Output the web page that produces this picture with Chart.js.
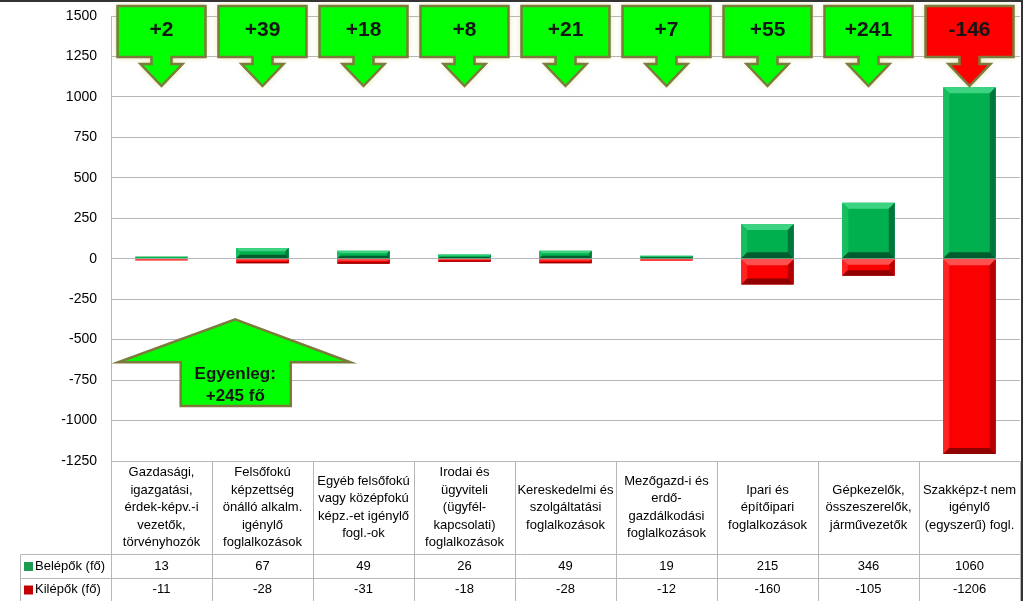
<!DOCTYPE html>
<html>
<head>
<meta charset="utf-8">
<script src="https://cdn.jsdelivr.net/npm/chart.js@4"></script>
<style>
  body { margin: 0; background: #fff; }
  #wrap { width: 1023px; height: 601px; }
</style>
</head>
<body>
<div id="wrap"><canvas id="myChart" width="1023" height="601"></canvas></div>
<script>
// data
const categories = [
  ['Gazdasági,', 'igazgatási,', 'érdek-képv.-i', 'vezetők,', 'törvényhozók'],
  ['Felsőfokú', 'képzettség', 'önálló alkalm.', 'igénylő', 'foglalkozások'],
  ['Egyéb felsőfokú', 'vagy középfokú', 'képz.-et igénylő', 'fogl.-ok'],
  ['Irodai és', 'ügyviteli', '(ügyfél-', 'kapcsolati)', 'foglalkozások'],
  ['Kereskedelmi és', 'szolgáltatási', 'foglalkozások'],
  ['Mezőgazd-i és', 'erdő-', 'gazdálkodási', 'foglalkozások'],
  ['Ipari és', 'építőipari', 'foglalkozások'],
  ['Gépkezelők,', 'összeszerelők,', 'járművezetők'],
  ['Szakképz-t nem', 'igénylő', '(egyszerű) fogl.']
];
const belepok = [13, 67, 49, 26, 49, 19, 215, 346, 1060];
const kilepok = [-11, -28, -31, -18, -28, -12, -160, -105, -1206];
const balanceLabels = ['+2', '+39', '+18', '+8', '+21', '+7', '+55', '+241', '-146'];
const seriesNames = ['Belépők (fő)', 'Kilépők (fő)'];
const yMin = -1250, yMax = 1500, yStep = 250;
const totalText = ['Egyenleg:', '+245 fő'];

const FONT = "'Liberation Sans', Arial, sans-serif";
const GRID = '#b7b7b7';

// bevelled bars like the excel look
const bevelCols = [
  { top: '#3cd482', left: '#16be60', right: '#00763c', bottom: '#005e2e' },
  { top: '#ff5050', left: '#ff2424', right: '#b40000', bottom: '#900000' }
];

function bevel(ctx, l, r, t, b, c) {
  const h = b - t, w = r - l;
  if (h < 2) return;
  const d = Math.min(6, h / 3, w / 4);
  const poly = (pts, col) => {
    ctx.beginPath();
    ctx.moveTo(pts[0][0], pts[0][1]);
    for (let i = 1; i < pts.length; i++) ctx.lineTo(pts[i][0], pts[i][1]);
    ctx.closePath();
    ctx.fillStyle = col;
    ctx.fill();
  };
  poly([[l, t], [r, t], [r - d, t + d], [l + d, t + d]], c.top);
  poly([[l, t], [l + d, t + d], [l + d, b - d], [l, b]], c.left);
  poly([[r, t], [r, b], [r - d, b - d], [r - d, t + d]], c.right);
  poly([[l, b], [l + d, b - d], [r - d, b - d], [r, b]], c.bottom);
}

const bevelPlugin = {
  id: 'bevel',
  afterDatasetsDraw(chart) {
    const ctx = chart.ctx;
    ctx.save();
    chart.data.datasets.forEach((ds, di) => {
      chart.getDatasetMeta(di).data.forEach(bar => {
        const p = bar.getProps(['x', 'y', 'base', 'width'], true);
        const t = Math.min(p.y, p.base), b = Math.max(p.y, p.base);
        bevel(ctx, p.x - p.width / 2, p.x + p.width / 2, t, b, bevelCols[di]);
      });
    });
    ctx.restore();
  }
};

// callout arrows on top + the balance arrow
function calloutPath(ctx, cx) {
  const hw = 44, top = 6, boxB = 57, sw = 10, stemB = 64, aw = 21, tip = 86;
  ctx.beginPath();
  ctx.moveTo(cx - hw, top);
  ctx.lineTo(cx + hw, top);
  ctx.lineTo(cx + hw, boxB);
  ctx.lineTo(cx + sw, boxB);
  ctx.lineTo(cx + sw, stemB);
  ctx.lineTo(cx + aw, stemB);
  ctx.lineTo(cx, tip);
  ctx.lineTo(cx - aw, stemB);
  ctx.lineTo(cx - sw, stemB);
  ctx.lineTo(cx - sw, boxB);
  ctx.lineTo(cx - hw, boxB);
  ctx.closePath();
}

const arrowPlugin = {
  id: 'arrows',
  afterDraw(chart) {
    const ctx = chart.ctx, x = chart.scales.x, y = chart.scales.y;
    ctx.save();
    balanceLabels.forEach((txt, i) => {
      const cx = x.getPixelForValue(i);
      calloutPath(ctx, cx);
      ctx.shadowColor = 'rgba(210,210,120,0.8)';
      ctx.shadowBlur = 6;
      ctx.fillStyle = txt.startsWith('-') ? '#ff0000' : '#00ff00';
      ctx.fill();
      ctx.shadowBlur = 0;
      ctx.lineWidth = 2.5;
      ctx.strokeStyle = '#7c7a3c';
      ctx.stroke();
      ctx.fillStyle = '#151515';
      ctx.font = 'bold 21px ' + FONT;
      ctx.textAlign = 'center';
      ctx.textBaseline = 'middle';
      ctx.fillText(txt, cx, 30);
    });

    // Egyenleg arrow
    const cx = x.getPixelForValue(0.73);
    const l = x.getPixelForValue(-0.43), r = x.getPixelForValue(1.87);
    const sl = x.getPixelForValue(0.19), sr = x.getPixelForValue(1.28);
    const tip = y.getPixelForValue(-375), sh = y.getPixelForValue(-640), bot = y.getPixelForValue(-910);
    ctx.beginPath();
    ctx.moveTo(cx, tip);
    ctx.lineTo(r, sh);
    ctx.lineTo(sr, sh);
    ctx.lineTo(sr, bot);
    ctx.lineTo(sl, bot);
    ctx.lineTo(sl, sh);
    ctx.lineTo(l, sh);
    ctx.closePath();
    ctx.fillStyle = '#00ff00';
    ctx.fill();
    ctx.lineWidth = 2.5;
    ctx.strokeStyle = '#7c7a3c';
    ctx.stroke();
    ctx.fillStyle = '#151515';
    ctx.font = 'bold 17px ' + FONT;
    ctx.fillText(totalText[0], cx, (sh + bot) / 2 - 10);
    ctx.fillText(totalText[1], cx, (sh + bot) / 2 + 12);
    ctx.restore();
  }
};

// excel style data table below the plot
const tablePlugin = {
  id: 'dataTable',
  afterDraw(chart) {
    const ctx = chart.ctx, x = chart.scales.x, area = chart.chartArea;
    const n = categories.length;
    const step = (area.right - area.left) / n;
    const top = area.bottom, r1 = top + 93, r2 = r1 + 24, r3 = r2 + 23, tl = 20;
    ctx.save();
    ctx.strokeStyle = GRID;
    ctx.lineWidth = 1;
    const line = (x1, y1, x2, y2) => {
      ctx.beginPath();
      ctx.moveTo(Math.round(x1) + 0.5, Math.round(y1) + 0.5);
      ctx.lineTo(Math.round(x2) + 0.5, Math.round(y2) + 0.5);
      ctx.stroke();
    };
    line(area.left, top, area.right, top);
    line(tl, r1, area.right, r1);
    line(tl, r2, area.right, r2);
    line(tl, r1, tl, r3);
    for (let i = 0; i <= n; i++) line(area.left + i * step, top, area.left + i * step, r3);

    ctx.fillStyle = '#000';
    ctx.font = '13px ' + FONT;
    ctx.textAlign = 'center';
    ctx.textBaseline = 'middle';
    const lh = 17.5;
    categories.forEach((lines, i) => {
      const cx = x.getPixelForValue(i);
      const y0 = (top + r1) / 2 - (lines.length - 1) * lh / 2;
      lines.forEach((s, k) => ctx.fillText(s, cx, y0 + k * lh));
      ctx.fillText(String(belepok[i]), cx, (r1 + r2) / 2);
      ctx.fillText(String(kilepok[i]), cx, (r2 + r3) / 2);
    });
    // legend keys
    ctx.textAlign = 'left';
    [[r1, r2, '#1e9a52'], [r2, r3, '#c40000']].forEach((row, k) => {
      const cy = (row[0] + row[1]) / 2;
      ctx.fillStyle = row[2];
      ctx.fillRect(24, cy - 4, 9, 9);
      ctx.fillStyle = '#000';
      ctx.fillText(seriesNames[k], 35, cy);
    });
    // frame
    ctx.strokeStyle = '#333';
    ctx.lineWidth = 2;
    ctx.beginPath();
    ctx.moveTo(0, 1); ctx.lineTo(1022, 1); ctx.lineTo(1022, 601);
    ctx.stroke();
    ctx.restore();
  }
};

const config = {
  type: 'bar',
  data: {
    labels: categories.map(c => c.join(' ')),
    datasets: [
      { label: seriesNames[0], data: belepok, backgroundColor: '#00b04f', borderWidth: 0 },
      { label: seriesNames[1], data: kilepok, backgroundColor: '#fa0000', borderWidth: 0 }
    ]
  },
  options: {
    responsive: false,
    animation: false,
    layout: { padding: { top: 16, bottom: 140, right: 3, left: 0 } },
    datasets: { bar: { categoryPercentage: 1, barPercentage: 0.52 } },
    scales: {
      x: { stacked: true, display: false },
      y: {
        stacked: true,
        min: yMin,
        max: yMax,
        afterFit(scale) {
          scale.width = 111;
          scale.paddingTop = 0;
          scale.paddingBottom = 0;
        },
        ticks: {
          stepSize: yStep, color: '#000', padding: 14,
          font: { size: 14, family: FONT },
          callback: v => String(v)
        },
        grid: { color: GRID, drawTicks: false },
        border: { color: GRID }
      }
    },
    plugins: { legend: { display: false }, tooltip: { enabled: false } }
  },
  plugins: [bevelPlugin, tablePlugin, arrowPlugin]
};

const myChart = new Chart(document.getElementById('myChart'), config);
</script>
</body>
</html>
